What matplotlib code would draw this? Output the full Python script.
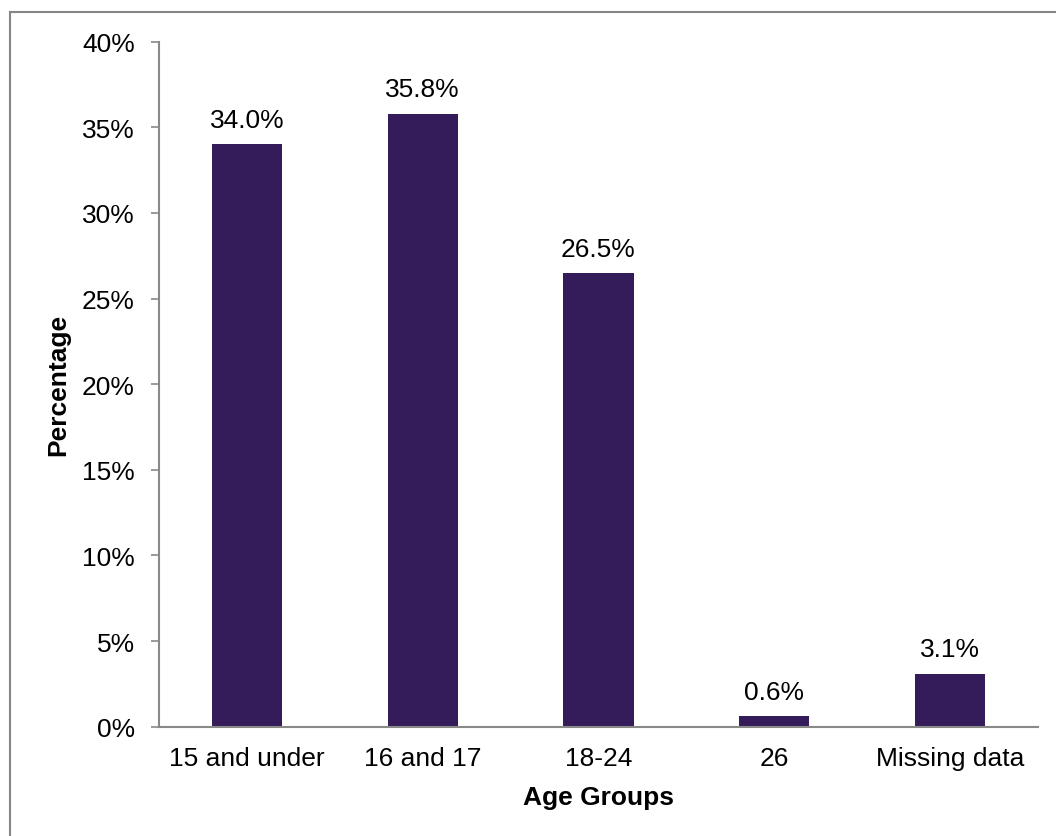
import matplotlib.pyplot as plt
from matplotlib.patches import Rectangle
from matplotlib.ticker import FuncFormatter

categories = ["15 and under", "16 and 17", "18-24", "26", "Missing data"]
values = [34.0, 35.8, 26.5, 0.6, 3.1]
labels = ["34.0%", "35.8%", "26.5%", "0.6%", "3.1%"]
yticks = [0, 5, 10, 15, 20, 25, 30, 35, 40]

plt.rcParams["font.family"] = ["Liberation Sans", "DejaVu Sans"]
fs = 19

fig = plt.figure(figsize=(10.56, 8.37), dpi=100)
ax = fig.add_axes([159 / 1056, 1 - 727.7 / 837, 879 / 1056, 685 / 837])

x = range(len(categories))
ax.bar(x, values, width=0.4, color="#341c5a")

for xi, v, lab in zip(x, values, labels):
    ax.annotate(lab, (xi, v), xytext=(0, 12.5), textcoords="offset points",
                ha="center", va="baseline", fontsize=fs, color="black")

ax.set_xlim(-0.5, len(categories) - 0.5)
ax.set_ylim(0, 40)
ax.set_yticks(yticks)
ax.yaxis.set_major_formatter(FuncFormatter(lambda v, p: f"{v:.0f}%"))
ax.set_xticks(list(x))
ax.set_xticklabels(categories)

ax.tick_params(axis="y", length=6, width=1.2, color="#898989", pad=11.5,
               labelsize=fs)
ax.tick_params(axis="x", length=0, pad=14, labelsize=fs)

for s in ["top", "right"]:
    ax.spines[s].set_visible(False)
for s in ["left", "bottom"]:
    ax.spines[s].set_color("#898989")
    ax.spines[s].set_linewidth(1.5)

ax.set_ylabel("Percentage", fontsize=fs, fontweight="bold")
ax.yaxis.set_label_coords(-0.115, 0.5)
ax.yaxis.label.set_verticalalignment("center")
ax.set_xlabel("Age Groups", fontsize=fs, fontweight="bold")
ax.xaxis.set_label_coords(0.5, -0.103)
ax.xaxis.label.set_verticalalignment("center")

# outer chart border (only top and left edges are inside the image)
fig.add_artist(Rectangle((10 / 1056, -0.1), 1.2, 1.1 - 13 / 837,
                         transform=fig.transFigure, fill=False,
                         edgecolor="#868686", linewidth=1.5))

fig.savefig("out.png", dpi=100)
